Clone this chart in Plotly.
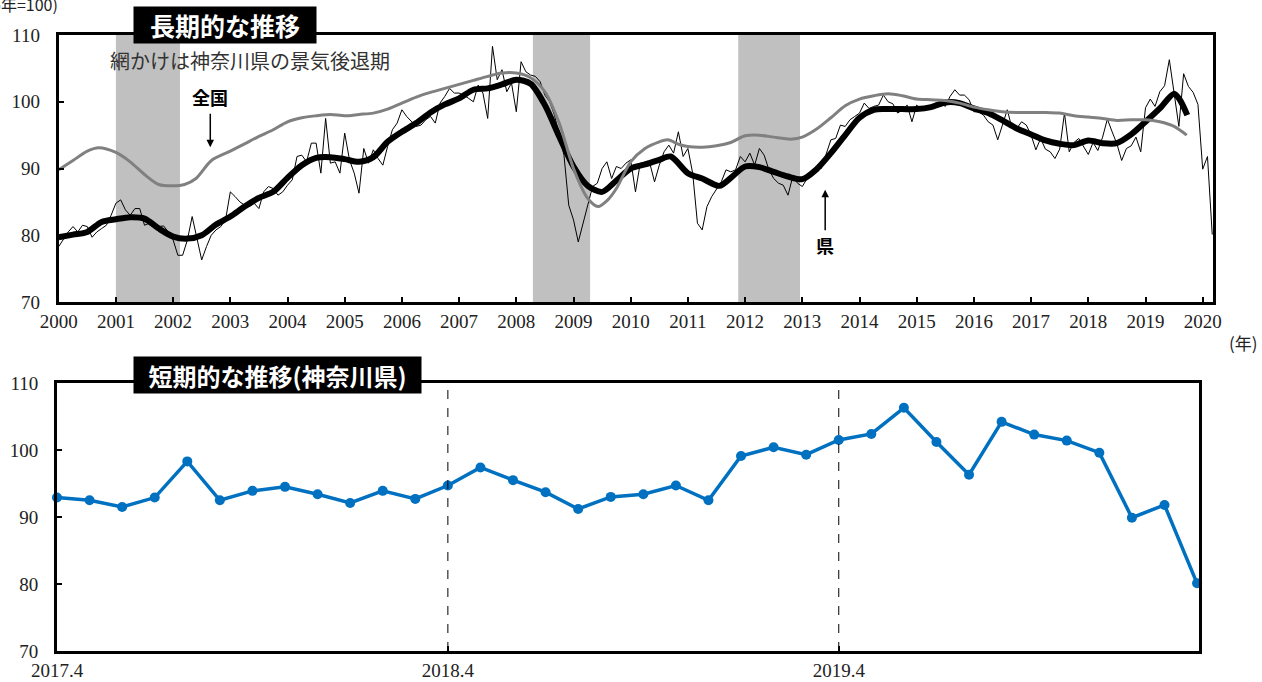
import plotly.graph_objects as go

# ---------------- DATA ----------------
# Kanagawa monthly index (thin line), Jan 2000 - Mar 2017
kanagawa_2000_2017 = [
    78.3, 79.5, 80.5, 81.3, 80.5, 81.5, 81.3, 79.7, 80.5, 81.0, 81.5, 83.0,
    84.8, 85.3, 83.8, 83.0, 84.0, 84.0, 81.5, 81.8, 81.5, 81.3, 81.4, 80.5,
    79.3, 77.0, 77.0, 79.3, 82.8, 79.3, 76.3, 78.3, 80.0, 80.8, 81.3, 82.3,
    86.5, 85.8, 85.0, 84.5, 84.3, 84.8, 84.0, 86.5, 87.3, 87.0, 86.0, 86.5,
    87.5, 88.3, 91.8, 92.0, 91.0, 93.8, 93.8, 89.3, 97.5, 90.8, 91.0, 89.3,
    95.3, 91.3, 89.3, 86.3, 93.0, 90.8, 92.8, 91.5, 90.5, 93.3, 95.8, 96.8,
    98.8, 97.8, 97.0, 96.3, 96.5, 97.3, 97.8, 96.8, 99.8, 100.8, 102.0, 101.3,
    101.3, 101.0, 100.5, 100.0, 102.5, 101.3, 97.5, 108.3, 103.3, 104.8, 101.5, 102.8,
    98.5, 106.0, 104.5, 104.0, 103.8, 103.0, 101.0, 100.0, 98.0, 95.0, 92.0, 84.5,
    82.3, 79.0, 81.8, 84.8, 87.3, 87.8, 90.0, 91.0, 88.5, 90.3, 90.0, 90.8,
    91.3, 86.5, 90.8, 91.0, 90.8, 88.0, 90.5, 92.5, 93.5, 92.3, 95.5, 91.8,
    93.0, 89.3, 81.8, 80.8, 84.3, 85.8, 87.0, 88.0, 89.8, 89.5, 89.8, 91.8,
    91.0, 92.3, 90.5, 93.0, 92.0, 89.8, 88.5, 87.8, 87.5, 86.0, 88.8, 87.8,
    87.3, 88.5, 88.8, 90.3, 90.0, 92.0, 94.3, 94.5, 96.5, 96.3, 97.3, 97.8,
    98.3, 99.8, 99.0, 99.3, 99.5, 101.0, 100.0, 99.7, 98.3, 98.8, 99.5, 97.0,
    99.5, 98.8, 98.8, 99.3, 99.8, 99.8, 99.3, 100.8, 101.8, 101.0, 101.0, 100.3,
    98.5, 98.5, 98.0, 97.0, 96.5, 94.3, 96.5, 98.8, 96.0, 96.0, 97.0, 96.5,
    95.0, 92.8, 94.5,
]
# Short-term (Apr 2017 - Mar 2020) Kanagawa monthly index
short_labels = ["2017.4", "2018.4", "2019.4"]
short_values = [
    92.9, 92.5, 91.5, 92.9, 98.3, 92.5, 93.9, 94.5, 93.4, 92.1, 93.9, 92.7,
    94.7, 97.4, 95.5, 93.7, 91.2, 93.0, 93.4, 94.7, 92.5, 99.1, 100.4, 99.3,
    101.5, 102.4, 106.3, 101.2, 96.3, 104.2, 102.3, 101.4, 99.6, 89.9, 91.8, 80.1,
]

# Kanagawa trend (thick black)
pref_trend_years = [2000.0, 2000.25, 2000.5, 2000.75, 2001.0, 2001.25, 2001.5, 2001.75,
                    2002.0, 2002.25, 2002.5, 2002.75, 2003.0, 2003.25, 2003.5, 2003.75,
                    2004.0, 2004.25, 2004.5, 2004.75, 2005.0, 2005.25, 2005.5, 2005.75,
                    2006.0, 2006.25, 2006.5, 2006.75, 2007.0, 2007.25, 2007.5, 2007.75,
                    2008.0, 2008.25, 2008.5, 2008.75, 2009.0, 2009.25, 2009.5, 2009.75,
                    2010.0, 2010.25, 2010.5, 2010.7, 2011.0, 2011.25, 2011.55, 2011.75,
                    2012.0, 2012.25, 2012.5, 2012.75, 2013.0, 2013.25, 2013.5, 2013.75,
                    2014.0, 2014.25, 2014.5, 2014.75, 2015.0, 2015.25, 2015.5, 2015.75,
                    2016.0, 2016.25, 2016.5, 2016.75, 2017.0, 2017.25, 2017.5, 2017.75,
                    2018.0, 2018.25, 2018.5, 2018.75, 2019.0, 2019.25, 2019.5, 2019.6, 2019.73]
pref_trend_values = [79.7, 80.1, 80.5, 82.0, 82.4, 82.7, 82.5, 81.0,
                     79.8, 79.5, 80.0, 81.6, 82.8, 84.3, 85.6, 86.5,
                     88.6, 90.5, 91.6, 91.7, 91.4, 91.0, 91.7, 94.0,
                     95.5, 96.8, 98.4, 99.6, 100.5, 101.8, 102.0, 102.6,
                     103.3, 102.7, 99.5, 94.8, 90.3, 87.4, 86.5, 88.2,
                     90.0, 90.6, 91.3, 91.8, 89.3, 88.5, 87.4, 88.6,
                     90.3, 90.2, 89.5, 88.8, 88.4, 89.9, 92.3, 95.0,
                     97.6, 98.8, 98.9, 98.9, 98.9, 99.2, 99.9, 99.8,
                     99.0, 98.3, 97.2, 96.0, 95.1, 94.2, 93.7, 93.5,
                     94.2, 93.8, 93.8, 95.1, 97.0, 99.0, 101.2, 100.3, 98.0]

# National trend (gray)
nat_trend_years = [2000.0, 2000.25, 2000.5, 2000.7, 2001.0, 2001.25, 2001.5, 2001.75,
                   2002.0, 2002.2, 2002.4, 2002.67, 2003.0, 2003.25, 2003.5, 2003.75,
                   2004.0, 2004.25, 2004.5, 2004.75, 2005.0, 2005.25, 2005.5, 2005.75,
                   2006.0, 2006.25, 2006.5, 2006.75, 2007.0, 2007.25, 2007.5, 2007.75,
                   2008.0, 2008.25, 2008.5, 2008.75, 2009.0, 2009.25, 2009.43, 2009.6,
                   2009.75, 2010.0, 2010.25, 2010.5, 2010.65, 2010.85, 2011.0, 2011.25,
                   2011.5, 2011.75, 2012.0, 2012.25, 2012.5, 2012.8, 2013.0, 2013.25,
                   2013.5, 2013.75, 2014.0, 2014.25, 2014.5, 2014.75, 2015.0, 2015.25,
                   2015.5, 2015.75, 2016.0, 2016.25, 2016.5, 2016.75, 2017.0, 2017.25,
                   2017.5, 2017.75, 2018.0, 2018.25, 2018.5, 2018.75, 2019.0, 2019.25,
                   2019.5, 2019.72]
nat_trend_values = [89.8, 91.2, 92.6, 93.1, 92.4, 91.0, 89.1, 87.6,
                    87.4, 87.6, 88.5, 91.2, 92.6, 93.7, 94.8, 95.8,
                    97.0, 97.6, 97.9, 98.1, 97.9, 98.1, 98.3, 98.9,
                    99.8, 100.7, 101.4, 102.0, 102.6, 103.2, 103.8, 104.3,
                    104.3, 103.6, 101.5, 96.8, 90.0, 85.5, 84.3, 85.3,
                    87.0, 91.0, 93.0, 94.0, 94.3, 93.6, 93.3, 93.2,
                    93.4, 93.9, 94.9, 95.0, 94.7, 94.4, 94.7, 95.9,
                    97.6, 99.4, 100.4, 100.9, 101.2, 100.9, 100.4, 100.3,
                    100.2, 99.8, 99.2, 98.8, 98.5, 98.4, 98.4, 98.4,
                    98.3, 97.9, 97.7, 97.5, 97.2, 97.3, 97.3, 97.0,
                    96.3, 95.0]

# Kanagawa recession periods (start, end) in decimal years
recessions = [(2001.0, 2002.12), (2008.29, 2009.29), (2011.88, 2012.96)]

year_ticks = list(range(2000, 2021))

# ---------------- BUILD ----------------
monthly = kanagawa_2000_2017 + short_values
monthly_x = [2000 + i / 12 for i in range(len(monthly))]
short_x = list(range(len(short_values)))

W, H = 1262, 682
def px(v):
    return v / W
def py(v):
    return 1 - v / H

SERIF = "Liberation Serif, Times New Roman, DejaVu Serif, serif"
JP = "Noto Sans CJK JP"

fig = go.Figure()

fig.add_trace(go.Scatter(x=monthly_x, y=monthly, mode="lines",
                         line=dict(color="black", width=1), xaxis="x", yaxis="y",
                         showlegend=False, hoverinfo="skip"))
fig.add_trace(go.Scatter(x=pref_trend_years, y=pref_trend_values, mode="lines",
                         line=dict(color="black", width=6, shape="spline", smoothing=0.8),
                         xaxis="x", yaxis="y", showlegend=False))
fig.add_trace(go.Scatter(x=nat_trend_years, y=nat_trend_values, mode="lines",
                         line=dict(color="#808080", width=3, shape="spline", smoothing=0.8),
                         xaxis="x", yaxis="y", showlegend=False))

fig.add_trace(go.Scatter(x=short_x, y=short_values, mode="lines+markers",
                         line=dict(color="#0070C0", width=3.5),
                         marker=dict(color="#0070C0", size=10),
                         cliponaxis=False, xaxis="x2", yaxis="y2", showlegend=False))

shapes = []
for s, e in recessions:
    shapes.append(dict(type="rect", xref="x", yref="y domain", x0=s, x1=e, y0=0, y1=1,
                       fillcolor="#C0C0C0", line=dict(width=0), layer="below"))
for xv in [12, 24]:
    shapes.append(dict(type="line", xref="x2", yref="y2 domain", x0=xv, x1=xv, y0=0, y1=1,
                       line=dict(color="black", width=1, dash="dash")))

axis_common = dict(showline=True, linecolor="black", linewidth=3, mirror=True,
                   ticks="inside", ticklen=5, tickwidth=2, tickcolor="black",
                   showgrid=False, zeroline=False, automargin=False,
                   tickfont=dict(family=SERIF, size=19, color="#222"))

fig.update_layout(
    width=W, height=H, margin=dict(l=0, r=0, t=0, b=0),
    paper_bgcolor="white", plot_bgcolor="white",
    font=dict(family=SERIF),
    xaxis=dict(domain=[px(58.7), px(1213)], range=[2000, 2020.18],
               tickvals=year_ticks, ticktext=[str(y) for y in year_ticks],
               anchor="y", **axis_common),
    yaxis=dict(domain=[py(302), py(35)], range=[70, 110], dtick=10,
               anchor="x", ticklabelstandoff=12, **axis_common),
    xaxis2=dict(domain=[px(57), px(1199)], range=[0, 35.06],
                tickvals=[0, 12, 24], ticktext=short_labels,
                anchor="y2", **axis_common),
    yaxis2=dict(domain=[py(651), py(383)], range=[70, 110], dtick=10,
                anchor="x2", ticklabelstandoff=12, **axis_common),
    shapes=shapes,
)

ann = []
ann.append(dict(text="(2015年=100)", xref="paper", yref="paper", x=px(60), y=py(4),
                xanchor="right", yanchor="middle", showarrow=False,
                font=dict(family=JP, size=16, color="#222")))
ann.append(dict(text="長期的な推移", xref="paper", yref="paper", x=px(225), y=py(25),
                xanchor="center", yanchor="middle", showarrow=False,
                bgcolor="black", width=180, height=34,
                font=dict(family=JP, size=25, color="white", weight="bold")))
ann.append(dict(text="短期的な推移(神奈川県)", xref="paper", yref="paper", x=px(277), y=py(375),
                xanchor="center", yanchor="middle", showarrow=False,
                bgcolor="black", width=285, height=34,
                font=dict(family=JP, size=24, color="white", weight="bold")))
ann.append(dict(text="網かけは神奈川県の景気後退期", xref="paper", yref="paper",
                x=px(250), y=py(60), xanchor="center", yanchor="middle", showarrow=False,
                font=dict(family=JP, size=20, color="#333")))
ann.append(dict(text="全国", xref="x", yref="y", x=2002.65, y=100.7,
                xanchor="center", yanchor="middle", showarrow=False,
                font=dict(family=JP, size=18, color="black", weight="bold")))
ann.append(dict(text="", xref="x", yref="y", x=2002.65, y=93.2, ax=0, ay=-35,
                showarrow=True, arrowhead=2, arrowsize=1, arrowwidth=1.5, arrowcolor="black"))
ann.append(dict(text="県", xref="x", yref="y", x=2013.4, y=78.6,
                xanchor="center", yanchor="middle", showarrow=False,
                font=dict(family=JP, size=18, color="black", weight="bold")))
ann.append(dict(text="", xref="x", yref="y", x=2013.4, y=86.8, ax=0, ay=42,
                showarrow=True, arrowhead=2, arrowsize=1, arrowwidth=1.5, arrowcolor="black"))
ann.append(dict(text="(年)", xref="paper", yref="paper", x=px(1243), y=py(342),
                xanchor="center", yanchor="middle", showarrow=False,
                font=dict(family=JP, size=17, color="#222")))
fig.update_layout(annotations=ann)

fig.write_html("out.html", config={"displayModeBar": False},
               post_script="document.body.style.margin='0px';document.body.style.overflow='hidden';")
